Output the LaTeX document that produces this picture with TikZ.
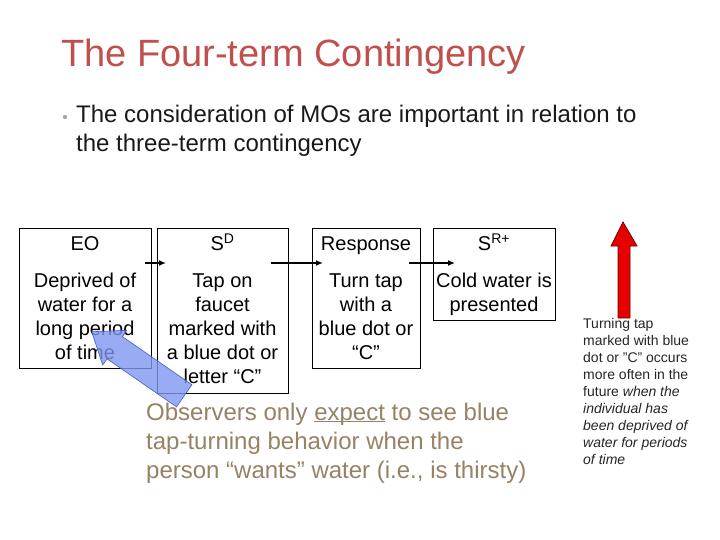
\documentclass[tikz,border=0pt]{standalone}
\usepackage{fontspec}
\setmainfont{Liberation Sans}
\usetikzlibrary{arrows.meta}
\definecolor{titlered}{RGB}{192,80,77}
\definecolor{obscol}{RGB}{150,130,100}
\definecolor{bluefill}{RGB}{128,152,240}
\definecolor{blueline}{RGB}{70,90,200}
\definecolor{redfill}{RGB}{232,0,0}
\definecolor{redline}{RGB}{110,0,0}
\newcommand\myul[1]{\setbox0\hbox{#1}\rlap{\rule[-2.4pt]{\wd0}{1pt}}#1}
\tikzset{
  box/.style={draw=black, line width=0.9pt, inner sep=0pt, anchor=north west},
  boxtxt/.style={inner sep=0pt, align=center, anchor=base, font=\fontsize{20}{24}\selectfont},
  conn/.style={line width=1.4pt, -{Latex[length=7pt,width=6pt]}},
}
\begin{document}
\begin{tikzpicture}[x=1pt,y=-1pt]
\useasboundingbox[fill=white] (0,0) rectangle (720,540);
% title
\node[anchor=base west, inner sep=0pt, text=titlered, font=\fontsize{38}{44}\selectfont] (title) at (61,67) {The Four-term Contingency};
% bullet
\fill[gray!70] (65,117) circle (2.2);
\node[anchor=base west, inner sep=0pt, align=left, font=\fontsize{24}{29}\selectfont, text=black!90] (bullet) at (76,152) {The consideration of MOs are important in relation to\\the three-term contingency};
% boxes
\node[box, minimum width=132, minimum height=140] (eo) at (19,228) {};
\node[box, minimum width=131, minimum height=165] (sd) at (157,228) {};
\node[box, minimum width=108, minimum height=140] (resp) at (312,228) {};
\node[box, minimum width=122, minimum height=92] (sr) at (433,228) {};
% box texts (anchor base = last line)
\node[boxtxt] (eoh) at (85,251) {EO};
\node[boxtxt] (eot) at (85,359) {Deprived of\\water for a\\long period\\of time};
\node[boxtxt] (sdh) at (222.5,251) {S\textsuperscript{D}};
\node[boxtxt] (sdt) at (222.5,383) {Tap on\\faucet\\marked with\\a blue dot or\\letter “C”};
\node[boxtxt] (rh) at (366,251) {Response};
\node[boxtxt] (rt) at (366,359) {Turn tap\\with a\\blue dot or\\“C”};
\node[boxtxt] (srh) at (494,251) {S\textsuperscript{R+}};
\node[boxtxt] (srt) at (494,311) {Cold water is\\presented};
% connectors
\draw[conn] ([shift={(-7pt,-35pt)}]eo.north east) -- ([shift={(9pt,-35pt)}]sd.north west);
\draw[conn] ([shift={(-18pt,-35pt)}]sd.north east) -- ([shift={(11pt,-35pt)}]resp.north west);
\draw[conn] ([shift={(-12pt,-35pt)}]resp.north east) -- ([shift={(22pt,-35pt)}]sr.north west);
% observers text
\node[anchor=base west, inner sep=0pt, align=left, text=obscol, font=\fontsize{24}{29}\selectfont] (obs) at (146,478) {Observers only \myul{expect} to see blue\\tap-turning behavior when the\\person “wants” water (i.e., is thirsty)};
% blue block arrow
\filldraw[fill=bluefill, fill opacity=0.8, draw=blueline, line width=0.6pt, line join=miter]
  (91.7,331.7) -- (126.7,330.4) -- (122.4,336.6) -- (191.9,384.7) -- (176.5,406.9) -- (107.0,358.8) -- (102.7,365.0) -- cycle;
% red block arrow
\filldraw[fill=redfill, draw=redline, line width=0.8pt]
  (623,222) -- (637,246) -- (630,246) -- (630,318) -- (618,318) -- (618,246) -- (611,246) -- cycle;
% right text
\node[anchor=base west, inner sep=0pt, align=left, text=black!85, font=\fontsize{14}{17}\selectfont] (note) at (583,464) {Turning tap\\marked with blue\\dot or "C" occurs\\more often in the\\future \textit{when the}\\\textit{individual has}\\\textit{been deprived of}\\\textit{water for periods}\\\textit{of time}};
\end{tikzpicture}
\end{document}
